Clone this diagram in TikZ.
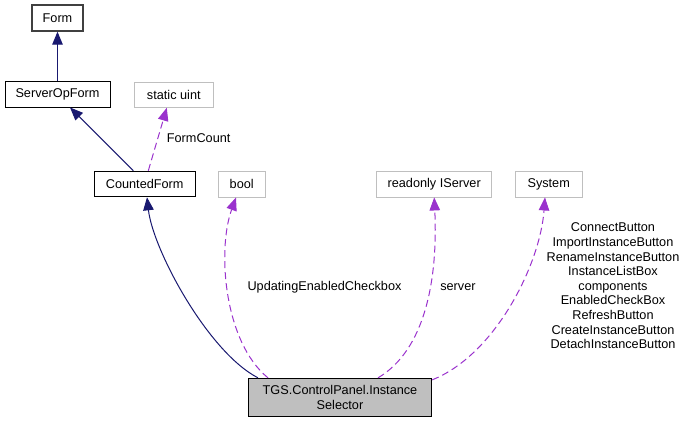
\documentclass[tikz,border=0pt]{standalone}
\usepackage{fontspec}
\setmainfont{Liberation Sans}
\usetikzlibrary{arrows.meta}
\definecolor{edgenavy}{HTML}{191970}
\definecolor{edgepurple}{HTML}{9A32CD}
\definecolor{boxgrey}{HTML}{BFBFBF}
\definecolor{formborder}{HTML}{404040}
\tikzset{
  cls/.style={draw=black, line width=0.9pt, inner sep=0pt, font=\fontsize{12.7}{14.6}\selectfont},
  extcls/.style={draw=boxgrey, line width=0.9pt, inner sep=0pt, font=\fontsize{12.7}{14.6}\selectfont},
  lbl/.style={inner sep=0pt, font=\fontsize{12.7}{14.6}\selectfont, align=center},
  inherit/.style={draw=edgenavy, line width=1pt, -{Triangle[length=13pt,width=10.5pt]}, fill=none},
  usage/.style={draw=edgepurple, line width=1pt, dash pattern=on 7pt off 4pt, -{Triangle[length=13pt,width=10.5pt]}},
}
\begin{document}
\begin{tikzpicture}[x=1pt,y=-1pt]
\useasboundingbox (0,0) rectangle (686,424);
\node[cls, draw=formborder, line width=1.3pt, minimum width=51pt, minimum height=26pt] (Form) at (57.5,18) {Form};
\node[cls, minimum width=105pt, minimum height=26pt] (ServerOpForm) at (57.5,94) {ServerOpForm};
\node[extcls, minimum width=79pt, minimum height=25pt] (staticuint) at (173.8,94.8) {static uint};
\node[cls, minimum width=100.7pt, minimum height=25.7pt] (CountedForm) at (144.7,184) {CountedForm};
\node[extcls, minimum width=47pt, minimum height=26pt] (bool) at (241.7,184) {bool};
\node[extcls, minimum width=115pt, minimum height=26pt] (IServer) at (434.2,184) {readonly IServer};
\node[extcls, minimum width=67pt, minimum height=26pt] (System) at (548.7,184) {System};
\node[cls, fill=boxgrey, align=center, minimum width=183.4pt, minimum height=38.4pt] (TGS) at (340,397.5) {TGS.ControlPanel.Instance\\Selector};

\node[lbl, anchor=west] (lFormCount) at (166.7,137.7) {FormCount};
\node[lbl] (lUpdating) at (324.5,287.3) {UpdatingEnabledCheckbox};
\node[lbl] (lserver) at (457.9,287.3) {server};
\node[lbl] (lSystem) at (613,286) {ConnectButton\\ImportInstanceButton\\RenameInstanceButton\\InstanceListBox\\components\\EnabledCheckBox\\RefreshButton\\CreateInstanceButton\\DetachInstanceButton};

\draw[inherit] (ServerOpForm.north) -- (Form.south);
\draw[inherit] ([xshift=-11.4pt]CountedForm.north) -- ([xshift=12.5pt]ServerOpForm.south);
\draw[usage] ([xshift=3.6pt]CountedForm.north) -- ([xshift=-7pt]staticuint.south);
\draw[inherit] ([xshift=-82pt]TGS.north) .. controls (208,352) and (153,250) .. ([xshift=2.3pt]CountedForm.south);
\draw[usage] ([xshift=-72pt]TGS.north) .. controls (224,342) and (217,250) .. ([xshift=-5.7pt]bool.south);
\draw[usage] ([xshift=38pt]TGS.north) .. controls (425,350) and (438,280) .. (IServer.south);
\draw[usage] ([yshift=-2pt]TGS.north east) .. controls (495,355) and (540,265) .. ([xshift=-3.7pt]System.south);
\end{tikzpicture}
\end{document}
